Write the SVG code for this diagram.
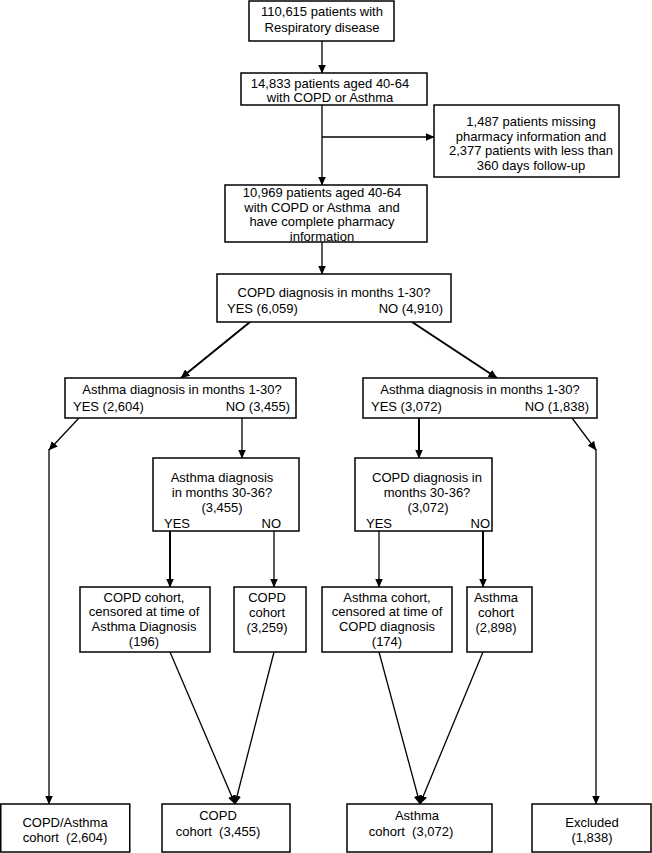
<svg xmlns="http://www.w3.org/2000/svg" width="652" height="853" viewBox="0 0 652 853">
<defs>
<marker id="ah" markerUnits="userSpaceOnUse" markerWidth="9" markerHeight="8" refX="8.5" refY="4" orient="auto">
<path d="M0,0 L9,4 L0,8 z" fill="#000"/>
</marker>
<style>
rect{fill:#fff;stroke:#000;stroke-width:1.5}
text{font-family:"Liberation Sans",Arial,sans-serif;font-size:13px;fill:#000}
.m{text-anchor:middle}
.e{text-anchor:end}
#connectors line{stroke:#000;stroke-width:1.3}
#connectors line.t{stroke-width:2}
#connectors line.a{marker-end:url(#ah)}
</style>
</defs>
<rect x="0" y="0" width="652" height="853" style="fill:#fff;stroke:none"/>
<g id="connectors">
<line class="a" x1="322" y1="41" x2="322" y2="73"/>
<line class="a" x1="322" y1="105" x2="322" y2="185"/>
<line class="a" x1="322" y1="137" x2="434" y2="137"/>
<line class="a" x1="322" y1="242" x2="322" y2="274"/>
<line class="a t" x1="250" y1="322" x2="181" y2="378"/>
<line class="a t" x1="412" y1="322" x2="497" y2="378"/>
<line class="a" x1="79" y1="418" x2="49" y2="450"/>
<line class="a" x1="49" y1="449" x2="49" y2="804"/>
<line class="a" x1="242" y1="418" x2="242" y2="458"/>
<line class="a t" x1="419" y1="418" x2="419" y2="458"/>
<line class="a" x1="572" y1="418" x2="596" y2="450"/>
<line class="a" x1="596" y1="449" x2="596" y2="804"/>
<line class="a t" x1="170" y1="531" x2="170" y2="587"/>
<line class="a" x1="274" y1="531" x2="274" y2="587"/>
<line class="a" x1="379" y1="531" x2="379" y2="587"/>
<line class="a t" x1="483" y1="531" x2="483" y2="587"/>
<line class="a" x1="170" y1="652" x2="235" y2="804"/>
<line class="a" x1="274" y1="652" x2="235" y2="804"/>
<line class="a" x1="379" y1="652" x2="420" y2="804"/>
<line class="a" x1="483" y1="652" x2="420" y2="804"/>
</g>
<g id="n1"><rect x="249" y="1" width="145" height="40"/>
<text class="m" x="322" y="16">110,615 patients with</text>
<text class="m" x="322" y="32">Respiratory disease</text></g>
<g id="n2"><rect x="241" y="73" width="186" height="32"/>
<text class="m" x="330" y="87.5">14,833 patients aged 40-64</text>
<text class="m" x="330" y="102">with COPD or Asthma</text></g>
<g id="n3"><rect x="434" y="105" width="185" height="72"/>
<text class="m" x="531" y="126">1,487 patients missing</text>
<text class="m" x="531" y="140.5">pharmacy information and</text>
<text class="m" x="531" y="155">2,377 patients with less than</text>
<text class="m" x="531" y="169.5">360 days follow-up</text></g>
<g id="n4"><rect x="225" y="185" width="202" height="57"/>
<text class="m" x="322" y="197">10,969 patients aged 40-64</text>
<text class="m" x="322" y="211.5" xml:space="preserve">with COPD or Asthma  and</text>
<text class="m" x="322" y="226">have complete pharmacy</text>
<text class="m" x="322" y="240.5">information</text></g>
<g id="n5"><rect x="217" y="274" width="234" height="48"/>
<text class="m" x="334" y="297">COPD diagnosis in months 1-30?</text>
<text x="227" y="313">YES (6,059)</text>
<text class="e" x="443" y="313">NO (4,910)</text></g>
<g id="n6"><rect x="65" y="378" width="231" height="40"/>
<text class="m" x="182" y="394">Asthma diagnosis in months 1-30?</text>
<text x="73" y="411">YES (2,604)</text>
<text class="e" x="290" y="411">NO (3,455)</text></g>
<g id="n7"><rect x="363" y="378" width="234" height="40"/>
<text class="m" x="480" y="394">Asthma diagnosis in months 1-30?</text>
<text x="371" y="411">YES (3,072)</text>
<text class="e" x="589" y="411">NO (1,838)</text></g>
<g id="n8"><rect x="153" y="458" width="146" height="73"/>
<text class="m" x="222" y="482">Asthma diagnosis</text>
<text class="m" x="222" y="497">in months 30-36?</text>
<text class="m" x="222" y="512">(3,455)</text>
<text x="164" y="528">YES</text>
<text class="e" x="281" y="528">NO</text></g>
<g id="n9"><rect x="355" y="458" width="137" height="73"/>
<text class="m" x="427" y="482">COPD diagnosis in</text>
<text class="m" x="427" y="497">months 30-36?</text>
<text class="m" x="428" y="512">(3,072)</text>
<text x="366" y="528">YES</text>
<text class="e" x="490" y="528">NO</text></g>
<g id="n10"><rect x="80" y="587" width="130" height="65"/>
<text class="m" x="144" y="601.5">COPD cohort,</text>
<text class="m" x="144" y="616">censored at time of</text>
<text class="m" x="144" y="630.5">Asthma Diagnosis</text>
<text class="m" x="144" y="646">(196)</text></g>
<g id="n11"><rect x="234" y="587" width="72" height="65"/>
<text class="m" x="267" y="602">COPD</text>
<text class="m" x="267" y="616.5">cohort</text>
<text class="m" x="267" y="632">(3,259)</text></g>
<g id="n12"><rect x="322" y="587" width="130" height="65"/>
<text class="m" x="387" y="601.5">Asthma cohort,</text>
<text class="m" x="387" y="616">censored at time of</text>
<text class="m" x="387" y="630.5">COPD diagnosis</text>
<text class="m" x="387" y="646">(174)</text></g>
<g id="n13"><rect x="467" y="587" width="65" height="65"/>
<text class="m" x="496" y="602">Asthma</text>
<text class="m" x="496" y="616.5">cohort</text>
<text class="m" x="496" y="632">(2,898)</text></g>
<g id="n14"><rect x="0.75" y="804" width="129" height="48"/>
<text class="m" x="65" y="827">COPD/Asthma</text>
<text class="m" x="65" y="841.5" xml:space="preserve">cohort  (2,604)</text></g>
<g id="n15"><rect x="162" y="804" width="128" height="48"/>
<text class="m" x="218" y="820">COPD</text>
<text class="m" x="218" y="836" xml:space="preserve">cohort  (3,455)</text></g>
<g id="n16"><rect x="347" y="804" width="145" height="48"/>
<text class="m" x="417" y="820">Asthma</text>
<text class="m" x="411" y="836" xml:space="preserve">cohort  (3,072)</text></g>
<g id="n17"><rect x="532" y="804" width="119" height="48"/>
<text class="m" x="592" y="827">Excluded</text>
<text class="m" x="592" y="841.5">(1,838)</text></g>
</svg>
